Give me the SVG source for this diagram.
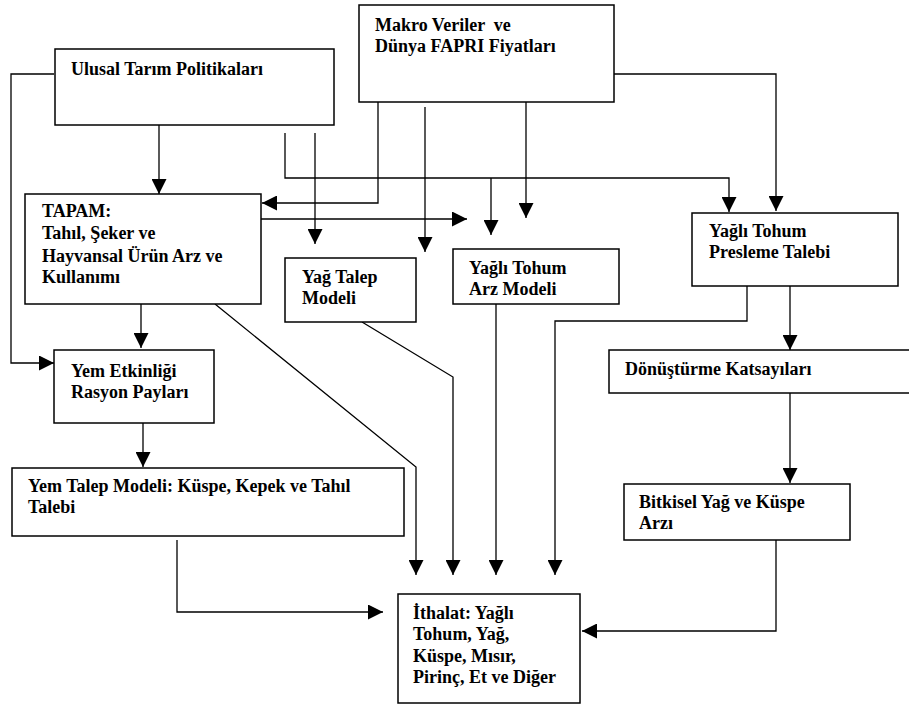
<svg xmlns="http://www.w3.org/2000/svg" width="909" height="708" viewBox="0 0 909 708">
<style>
.box{fill:#fff;stroke:#000;stroke-width:1.5}
.t{font-family:"Liberation Serif","Times New Roman",serif;font-weight:bold;font-size:18px;fill:#000;white-space:pre}
.c{fill:none;stroke:#000;stroke-width:1.3}
.a{marker-end:url(#ah)}
</style>
<defs>
<marker id="ah" markerUnits="userSpaceOnUse" markerWidth="15" markerHeight="15" refX="15" refY="7.5" orient="auto" viewBox="0 0 15 15">
<path d="M0,0 L15,7.5 L0,15 z" fill="#000"/>
</marker>
</defs>
<rect width="909" height="708" fill="#fff"/>
<g id="connectors">
<path class="c a" d="M54,74 H11 V363 H54"/>
<path class="c a" d="M159,125 V194"/>
<path class="c a" d="M285,133 V178 H729 V212"/>
<path class="c a" d="M315,133 V244"/>
<path class="c a" d="M378,102 V203 H262"/>
<path class="c a" d="M425,107 V252"/>
<path class="c a" d="M526,102 V218"/>
<path class="c a" d="M261,219 H467"/>
<path class="c a" d="M491,178 V235"/>
<path class="c a" d="M614,74 H776 V211"/>
<path class="c a" d="M747,286 V321 H555 V575"/>
<path class="c a" d="M790,286 V350"/>
<path class="c a" d="M790,393 V483"/>
<path class="c a" d="M776,540 V631 H582"/>
<path class="c a" d="M177,540 V612 H383"/>
<path class="c a" d="M215,304 L416,467 V575"/>
<path class="c a" d="M362,322 L453,377 V575"/>
<path class="c a" d="M496,304 V575"/>
<path class="c a" d="M143,423 V467"/>
<path class="c a" d="M141,304 V348"/>
</g>
<g id="ulusal">
<rect class="box" x="55" y="49" width="279" height="76"/>
<text class="t" x="71" y="75">Ulusal Tarım Politikaları</text>
</g>
<g id="makro">
<rect class="box" x="359" y="5" width="255" height="97"/>
<text class="t" x="375" y="31">Makro Veriler  ve</text>
<text class="t" x="375" y="52">Dünya FAPRI Fiyatları</text>
</g>
<g id="tapam">
<rect class="box" x="25" y="194" width="236" height="110"/>
<text class="t" x="42" y="217">TAPAM:</text>
<text class="t" x="42" y="239">Tahıl, Şeker ve</text>
<text class="t" x="42" y="262">Hayvansal Ürün Arz ve</text>
<text class="t" x="42" y="283">Kullanımı</text>
</g>
<g id="yagtalep">
<rect class="box" x="285" y="258" width="131" height="64"/>
<text class="t" x="302" y="283">Yağ Talep</text>
<text class="t" x="302" y="304">Modeli</text>
</g>
<g id="arz">
<rect class="box" x="453" y="249" width="166" height="55"/>
<text class="t" x="469" y="274">Yağlı Tohum</text>
<text class="t" x="469" y="295">Arz Modeli</text>
</g>
<g id="presleme">
<rect class="box" x="692" y="213" width="206" height="73"/>
<text class="t" x="709" y="237">Yağlı Tohum</text>
<text class="t" x="709" y="258">Presleme Talebi</text>
</g>
<g id="donusturme">
<rect class="box" x="609" y="350" width="310" height="43"/>
<text class="t" x="625" y="375">Dönüştürme Katsayıları</text>
</g>
<g id="yemetkinligi">
<rect class="box" x="54" y="350" width="160" height="73"/>
<text class="t" x="71" y="377">Yem Etkinliği</text>
<text class="t" x="71" y="398">Rasyon Payları</text>
</g>
<g id="yemtalep">
<rect class="box" x="12" y="468" width="392" height="68"/>
<text class="t" x="28" y="492">Yem Talep Modeli: Küspe, Kepek ve Tahıl</text>
<text class="t" x="28" y="513">Talebi</text>
</g>
<g id="bitkisel">
<rect class="box" x="624" y="484" width="226" height="56"/>
<text class="t" x="639" y="508">Bitkisel Yağ ve Küspe</text>
<text class="t" x="639" y="529">Arzı</text>
</g>
<g id="ithalat">
<rect class="box" x="398" y="594" width="182" height="109"/>
<text class="t" x="413" y="619">İthalat: Yağlı</text>
<text class="t" x="413" y="640">Tohum, Yağ,</text>
<text class="t" x="413" y="662">Küspe, Mısır,</text>
<text class="t" x="413" y="683">Pirinç, Et ve Diğer</text>
</g>
</svg>
